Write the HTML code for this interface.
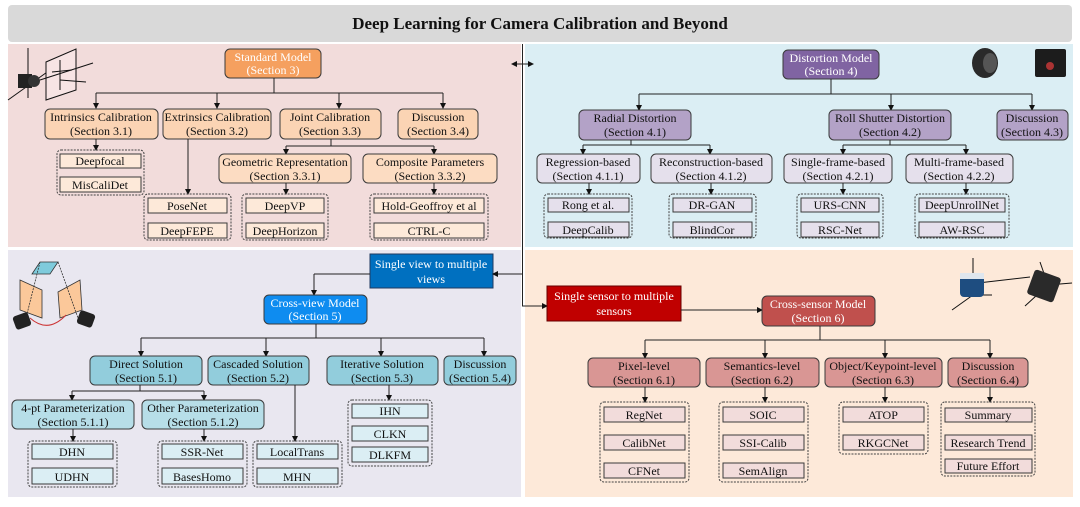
<!DOCTYPE html>
<html><head><meta charset="utf-8"><style>
html,body{margin:0;padding:0;background:#fff}
svg{display:block}
text{font-family:"Liberation Serif",serif;font-size:12px;text-anchor:middle;fill:#111}
.w{fill:#fff}
.b{stroke:#3a3a3a;stroke-width:1}
.g{fill:none;stroke:#444;stroke-width:1;stroke-dasharray:2,1.2}
.l{stroke:#222;stroke-width:1;fill:none}
</style></head><body>
<svg width="1080" height="507" viewBox="0 0 1080 507" xmlns="http://www.w3.org/2000/svg">
<defs><marker id="a" markerWidth="6" markerHeight="6" refX="5" refY="3" orient="auto" markerUnits="userSpaceOnUse"><path d="M0,0 L6,3 L0,6 z" fill="#111"/></marker></defs>
<!-- title -->
<rect x="8" y="5" width="1064" height="37" rx="4" fill="#d9d9d9"/>
<text x="540" y="29" style="font-size:17px;font-weight:bold">Deep Learning for Camera Calibration and Beyond</text>
<!-- panels -->
<rect x="8" y="44" width="513" height="203" fill="#f2dcdb"/>
<rect x="525" y="44" width="548" height="203" fill="#dbeef4"/>
<rect x="8" y="250" width="513" height="247" fill="#e9e7f0"/>
<rect x="525" y="250" width="548" height="247" fill="#fde9d9"/>
<line x1="522.5" y1="44" x2="522.5" y2="306" class="l"/>
<line x1="522" y1="64" x2="512" y2="64" class="l" marker-end="url(#a)"/>
<line x1="522" y1="64" x2="533" y2="64" class="l" marker-end="url(#a)"/>

<!-- TL icon -->
<g stroke="#111" stroke-width="1" fill="none">
<line x1="28" y1="48" x2="28" y2="98"/><line x1="8" y1="100" x2="50" y2="70"/>
<polygon points="46,62 76,49 76,90 46,100" fill="#f7e4e4"/>
<line x1="40" y1="80" x2="93" y2="63"/><line x1="52" y1="72" x2="72" y2="70"/><line x1="60" y1="60" x2="60" y2="90"/><line x1="60" y1="80" x2="86" y2="82"/>
</g>
<rect x="18" y="74" width="14" height="14" fill="#222"/>
<circle cx="34" cy="81" r="6" fill="#333"/>

<!-- TL tree -->
<rect x="225" y="49" width="96" height="29" rx="5" fill="#f5a05f" class="b"/>
<text x="273" y="61" class="w">Standard Model</text><text x="273" y="74" class="w">(Section 3)</text>
<path d="M274,78 V93 M96,93 H443" class="l"/>
<line x1="96" y1="93" x2="96" y2="108" class="l" marker-end="url(#a)"/>
<line x1="217" y1="93" x2="217" y2="108" class="l" marker-end="url(#a)"/>
<line x1="339" y1="93" x2="339" y2="108" class="l" marker-end="url(#a)"/>
<line x1="443" y1="93" x2="443" y2="108" class="l" marker-end="url(#a)"/>
<g fill="#fbd4b4" class="b">
<rect x="45" y="109" width="113" height="30" rx="5"/><rect x="163" y="109" width="108" height="30" rx="5"/>
<rect x="280" y="109" width="101" height="30" rx="5"/><rect x="398" y="109" width="80" height="30" rx="5"/>
</g>
<text x="101" y="121">Intrinsics Calibration</text><text x="101" y="135">(Section 3.1)</text>
<text x="217" y="121">Extrinsics Calibration</text><text x="217" y="135">(Section 3.2)</text>
<text x="330" y="121">Joint Calibration</text><text x="330" y="135">(Section 3.3)</text>
<text x="438" y="121">Discussion</text><text x="438" y="135">(Section 3.4)</text>
<line x1="96" y1="139" x2="96" y2="150" class="l" marker-end="url(#a)"/>
<line x1="188" y1="139" x2="188" y2="194" class="l" marker-end="url(#a)"/>
<path d="M331,139 V146 M286,146 H434" class="l"/>
<line x1="286" y1="146" x2="286" y2="154" class="l" marker-end="url(#a)"/>
<line x1="434" y1="146" x2="434" y2="154" class="l" marker-end="url(#a)"/>
<g fill="#fcdcc2" class="b">
<rect x="219" y="154" width="132" height="29" rx="5"/><rect x="363" y="154" width="134" height="29" rx="5"/>
</g>
<text x="285" y="166">Geometric Representation</text><text x="285" y="180">(Section 3.3.1)</text>
<text x="430" y="166">Composite Parameters</text><text x="430" y="180">(Section 3.3.2)</text>
<line x1="286" y1="183" x2="286" y2="194" class="l" marker-end="url(#a)"/>
<line x1="434" y1="183" x2="434" y2="194" class="l" marker-end="url(#a)"/>
<rect x="57" y="150" width="87" height="45" rx="4" class="g"/>
<rect x="144" y="194" width="87" height="46" rx="4" class="g"/>
<rect x="242" y="194" width="86" height="46" rx="4" class="g"/>
<rect x="370" y="194" width="118" height="46" rx="4" class="g"/>
<g fill="#fde9d9" class="b">
<rect x="60" y="154" width="81" height="14"/><rect x="60" y="177" width="81" height="15"/>
<rect x="148" y="198" width="79" height="15"/><rect x="148" y="223" width="79" height="15"/>
<rect x="246" y="198" width="78" height="15"/><rect x="246" y="223" width="78" height="15"/>
<rect x="374" y="198" width="110" height="15"/><rect x="374" y="223" width="110" height="15"/>
</g>
<text x="100" y="165">Deepfocal</text><text x="100" y="189">MisCaliDet</text>
<text x="187" y="210">PoseNet</text><text x="187" y="235">DeepFEPE</text>
<text x="285" y="210">DeepVP</text><text x="285" y="235">DeepHorizon</text>
<text x="429" y="210">Hold-Geoffroy et al</text><text x="429" y="235">CTRL-C</text>

<!-- TR icons -->
<ellipse cx="985" cy="63" rx="13" ry="15" fill="#2a2a2a"/><ellipse cx="990" cy="63" rx="7" ry="10" fill="#555"/>
<rect x="1035" y="49" width="31" height="28" rx="2" fill="#1c1c1c"/><circle cx="1050" cy="66" r="4" fill="#a33"/>
<!-- TR tree -->
<rect x="783" y="50" width="96" height="29" rx="5" fill="#8064a2" class="b"/>
<text x="831" y="62" class="w">Distortion Model</text><text x="831" y="75" class="w">(Section 4)</text>
<path d="M831,79 V94 M639,94 H1032" class="l"/>
<line x1="639" y1="94" x2="639" y2="110" class="l" marker-end="url(#a)"/>
<line x1="891" y1="94" x2="891" y2="110" class="l" marker-end="url(#a)"/>
<line x1="1032" y1="94" x2="1032" y2="110" class="l" marker-end="url(#a)"/>
<g fill="#b3a2c7" class="b">
<rect x="579" y="110" width="112" height="30" rx="5"/><rect x="829" y="110" width="122" height="30" rx="5"/><rect x="997" y="110" width="71" height="30" rx="5"/>
</g>
<text x="635" y="122">Radial Distortion</text><text x="635" y="136">(Section 4.1)</text>
<text x="890" y="122">Roll Shutter Distortion</text><text x="890" y="136">(Section 4.2)</text>
<text x="1032" y="122">Discussion</text><text x="1032" y="136">(Section 4.3)</text>
<path d="M631,140 V145 M583,145 H710 M890,140 V145 M843,145 H966" class="l"/>
<line x1="583" y1="145" x2="583" y2="154" class="l" marker-end="url(#a)"/>
<line x1="710" y1="145" x2="710" y2="154" class="l" marker-end="url(#a)"/>
<line x1="843" y1="145" x2="843" y2="154" class="l" marker-end="url(#a)"/>
<line x1="966" y1="145" x2="966" y2="154" class="l" marker-end="url(#a)"/>
<g fill="#e5e0ec" class="b">
<rect x="537" y="154" width="103" height="29" rx="5"/><rect x="651" y="154" width="121" height="29" rx="5"/>
<rect x="784" y="154" width="108" height="29" rx="5"/><rect x="906" y="154" width="107" height="29" rx="5"/>
</g>
<text x="588" y="166">Regression-based</text><text x="588" y="180">(Section 4.1.1)</text>
<text x="711" y="166">Reconstruction-based</text><text x="711" y="180">(Section 4.1.2)</text>
<text x="838" y="166">Single-frame-based</text><text x="838" y="180">(Section 4.2.1)</text>
<text x="959" y="166">Multi-frame-based</text><text x="959" y="180">(Section 4.2.2)</text>
<line x1="589" y1="183" x2="589" y2="194" class="l" marker-end="url(#a)"/>
<line x1="711" y1="183" x2="711" y2="194" class="l" marker-end="url(#a)"/>
<line x1="843" y1="183" x2="843" y2="194" class="l" marker-end="url(#a)"/>
<line x1="966" y1="183" x2="966" y2="194" class="l" marker-end="url(#a)"/>
<rect x="544" y="194" width="88" height="44" rx="4" class="g"/>
<rect x="669" y="194" width="87" height="44" rx="4" class="g"/>
<rect x="797" y="194" width="86" height="44" rx="4" class="g"/>
<rect x="915" y="194" width="94" height="44" rx="4" class="g"/>
<g fill="#e5e0ec" class="b">
<rect x="548" y="198" width="81" height="14"/><rect x="548" y="222" width="81" height="15"/>
<rect x="673" y="198" width="79" height="14"/><rect x="673" y="222" width="79" height="15"/>
<rect x="801" y="198" width="78" height="14"/><rect x="801" y="222" width="78" height="15"/>
<rect x="919" y="198" width="86" height="14"/><rect x="919" y="222" width="86" height="15"/>
</g>
<text x="588" y="209">Rong et al.</text><text x="588" y="234">DeepCalib</text>
<text x="712" y="209">DR-GAN</text><text x="712" y="234">BlindCor</text>
<text x="840" y="209">URS-CNN</text><text x="840" y="234">RSC-Net</text>
<text x="962" y="209">DeepUnrollNet</text><text x="962" y="234">AW-RSC</text>

<!-- BL icon -->
<g stroke="#333" stroke-width="0.8">
<polygon points="40,262 58,262 50,274 32,274" fill="#7fcbdc"/>
<polygon points="20,280 42,290 42,318 20,310" fill="#fbc89a"/>
<polygon points="58,292 80,280 82,310 60,318" fill="#fbc89a"/>
<line x1="40" y1="262" x2="26" y2="318" stroke-dasharray="2,1"/><line x1="58" y1="262" x2="78" y2="318" stroke-dasharray="2,1"/>
</g>
<path d="M30,318 Q48,334 66,315" stroke="#c33" fill="none"/>
<rect x="14" y="314" width="16" height="14" rx="3" fill="#222" transform="rotate(-20 22 321)"/>
<rect x="78" y="312" width="16" height="14" rx="3" fill="#222" transform="rotate(20 86 319)"/>
<!-- BL tree -->
<rect x="370" y="254" width="123" height="34" fill="#0070c0" stroke="#1f3a60"/>
<text x="431" y="268" class="w">Single view to multiple</text><text x="431" y="283" class="w">views</text>
<line x1="522" y1="274" x2="493" y2="274" class="l" marker-end="url(#a)"/>
<path d="M370,274 H314" class="l"/>
<line x1="314" y1="274" x2="314" y2="295" class="l" marker-end="url(#a)"/>
<rect x="264" y="295" width="103" height="29" rx="5" fill="#0e8cf0" class="b"/>
<text x="315" y="307" class="w">Cross-view Model</text><text x="315" y="320" class="w">(Section 5)</text>
<path d="M316,324 V338 M141,338 H484" class="l"/>
<line x1="141" y1="338" x2="141" y2="356" class="l" marker-end="url(#a)"/>
<line x1="266" y1="338" x2="266" y2="356" class="l" marker-end="url(#a)"/>
<line x1="381" y1="338" x2="381" y2="356" class="l" marker-end="url(#a)"/>
<line x1="484" y1="338" x2="484" y2="356" class="l" marker-end="url(#a)"/>
<g fill="#92cddc" class="b">
<rect x="90" y="356" width="112" height="29" rx="5"/><rect x="208" y="356" width="101" height="29" rx="5"/>
<rect x="327" y="356" width="111" height="29" rx="5"/><rect x="444" y="356" width="72" height="29" rx="5"/>
</g>
<text x="146" y="368">Direct Solution</text><text x="146" y="382">(Section 5.1)</text>
<text x="258" y="368">Cascaded Solution</text><text x="258" y="382">(Section 5.2)</text>
<text x="382" y="368">Iterative Solution</text><text x="382" y="382">(Section 5.3)</text>
<text x="480" y="368">Discussion</text><text x="480" y="382">(Section 5.4)</text>
<path d="M140,385 V391 M72,391 H204" class="l"/>
<line x1="72" y1="391" x2="72" y2="400" class="l" marker-end="url(#a)"/>
<line x1="204" y1="391" x2="204" y2="400" class="l" marker-end="url(#a)"/>
<line x1="295" y1="385" x2="295" y2="441" class="l" marker-end="url(#a)"/>
<line x1="389" y1="385" x2="389" y2="400" class="l" marker-end="url(#a)"/>
<g fill="#b7dee8" class="b">
<rect x="12" y="400" width="122" height="29" rx="5"/><rect x="142" y="400" width="122" height="29" rx="5"/>
</g>
<text x="73" y="412">4-pt Parameterization</text><text x="73" y="426">(Section 5.1.1)</text>
<text x="203" y="412">Other Parameterization</text><text x="203" y="426">(Section 5.1.2)</text>
<line x1="73" y1="429" x2="73" y2="441" class="l" marker-end="url(#a)"/>
<line x1="204" y1="429" x2="204" y2="441" class="l" marker-end="url(#a)"/>
<rect x="28" y="441" width="89" height="46" rx="4" class="g"/>
<rect x="158" y="441" width="89" height="46" rx="4" class="g"/>
<rect x="253" y="441" width="89" height="46" rx="4" class="g"/>
<rect x="348" y="400" width="84" height="66" rx="4" class="g"/>
<g fill="#dbeef4" class="b">
<rect x="32" y="444" width="81" height="15"/><rect x="32" y="468" width="81" height="16"/>
<rect x="162" y="444" width="81" height="15"/><rect x="162" y="468" width="81" height="16"/>
<rect x="257" y="444" width="81" height="15"/><rect x="257" y="468" width="81" height="16"/>
<rect x="352" y="404" width="76" height="14"/><rect x="352" y="426" width="76" height="15"/><rect x="352" y="447" width="76" height="15"/>
</g>
<text x="72" y="456">DHN</text><text x="72" y="481">UDHN</text>
<text x="202" y="456">SSR-Net</text><text x="202" y="481">BasesHomo</text>
<text x="297" y="456">LocalTrans</text><text x="297" y="481">MHN</text>
<text x="390" y="415">IHN</text><text x="390" y="438">CLKN</text><text x="390" y="459">DLKFM</text>

<!-- BR icon -->
<g stroke="#111" stroke-width="1">
<line x1="973" y1="258" x2="973" y2="295"/><line x1="973" y1="295" x2="992" y2="295"/><line x1="973" y1="295" x2="952" y2="310"/>
<line x1="978" y1="283" x2="1030" y2="277"/>
<line x1="1040" y1="262" x2="1048" y2="285"/><line x1="1048" y1="285" x2="1072" y2="283"/><line x1="1048" y1="285" x2="1025" y2="306"/>
</g>
<rect x="960" y="275" width="24" height="22" rx="4" fill="#1e4d80"/>
<rect x="960" y="273" width="24" height="6" fill="#dfe6ee"/>
<rect x="1030" y="273" width="28" height="26" rx="3" fill="#2a2a2a" transform="rotate(20 1044 286)"/>
<!-- BR tree -->
<line x1="522" y1="306" x2="547" y2="306" class="l" marker-end="url(#a)"/>
<rect x="547" y="286" width="134" height="35" fill="#c00000" stroke="#600"/>
<text x="614" y="300" class="w">Single sensor to multiple</text><text x="614" y="315" class="w">sensors</text>
<line x1="681" y1="310" x2="762" y2="310" class="l" marker-end="url(#a)"/>
<rect x="762" y="296" width="113" height="30" rx="5" fill="#c0504d" class="b"/>
<text x="818" y="308" class="w">Cross-sensor Model</text><text x="818" y="322" class="w">(Section 6)</text>
<path d="M820,326 V340 M645,340 H990" class="l"/>
<line x1="645" y1="340" x2="645" y2="358" class="l" marker-end="url(#a)"/>
<line x1="765" y1="340" x2="765" y2="358" class="l" marker-end="url(#a)"/>
<line x1="885" y1="340" x2="885" y2="358" class="l" marker-end="url(#a)"/>
<line x1="990" y1="340" x2="990" y2="358" class="l" marker-end="url(#a)"/>
<g fill="#d99694" class="b">
<rect x="588" y="358" width="112" height="29" rx="5"/><rect x="706" y="358" width="113" height="29" rx="5"/>
<rect x="825" y="358" width="117" height="29" rx="5"/><rect x="948" y="358" width="80" height="29" rx="5"/>
</g>
<text x="644" y="370">Pixel-level</text><text x="644" y="384">(Section 6.1)</text>
<text x="762" y="370">Semantics-level</text><text x="762" y="384">(Section 6.2)</text>
<text x="883" y="370">Object/Keypoint-level</text><text x="883" y="384">(Section 6.3)</text>
<text x="988" y="370">Discussion</text><text x="988" y="384">(Section 6.4)</text>
<line x1="645" y1="387" x2="645" y2="402" class="l" marker-end="url(#a)"/>
<line x1="765" y1="387" x2="765" y2="402" class="l" marker-end="url(#a)"/>
<line x1="885" y1="387" x2="885" y2="402" class="l" marker-end="url(#a)"/>
<line x1="990" y1="387" x2="990" y2="402" class="l" marker-end="url(#a)"/>
<rect x="600" y="402" width="89" height="80" rx="4" class="g"/>
<rect x="719" y="402" width="89" height="80" rx="4" class="g"/>
<rect x="839" y="402" width="89" height="52" rx="4" class="g"/>
<rect x="941" y="402" width="94" height="74" rx="4" class="g"/>
<g fill="#f2dcdb" class="b">
<rect x="604" y="407" width="81" height="15"/><rect x="604" y="435" width="81" height="15"/><rect x="604" y="463" width="81" height="15"/>
<rect x="723" y="407" width="81" height="15"/><rect x="723" y="435" width="81" height="15"/><rect x="723" y="463" width="81" height="15"/>
<rect x="843" y="407" width="81" height="15"/><rect x="843" y="435" width="81" height="15"/>
<rect x="945" y="408" width="87" height="14"/><rect x="945" y="435" width="87" height="15"/><rect x="945" y="459" width="87" height="14"/>
</g>
<text x="644" y="419">RegNet</text><text x="644" y="447">CalibNet</text><text x="644" y="475">CFNet</text>
<text x="763" y="419">SOIC</text><text x="763" y="447">SSI-Calib</text><text x="763" y="475">SemAlign</text>
<text x="883" y="419">ATOP</text><text x="883" y="447">RKGCNet</text>
<text x="988" y="419">Summary</text><text x="988" y="447">Research Trend</text><text x="988" y="470">Future Effort</text>
</svg>
</body></html>
